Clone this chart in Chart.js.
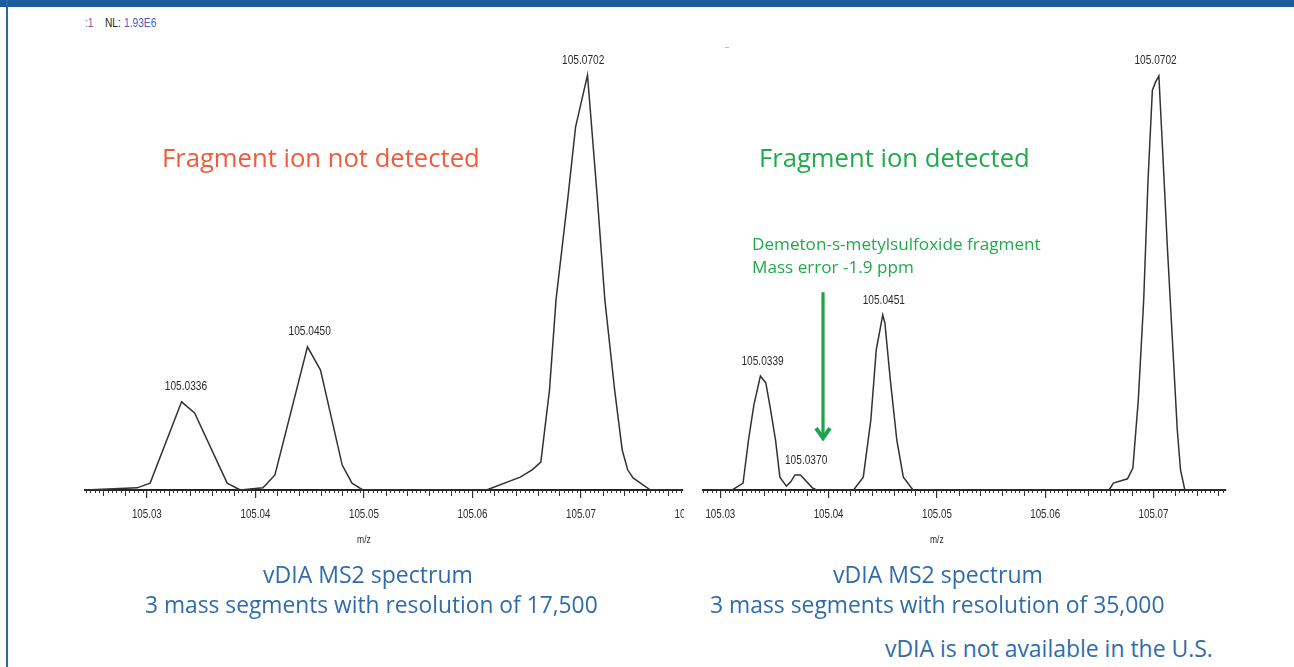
<!DOCTYPE html>
<html><head><meta charset="utf-8">
<script src="https://cdn.jsdelivr.net/npm/chart.js@4.4.0/dist/chart.umd.min.js"></script>
<style>
html,body{margin:0;padding:0;background:#fff;width:1294px;height:667px;overflow:hidden;position:relative}
#topbar{position:absolute;left:0;top:0;width:1294px;height:7px;background:#1c5c9b}
#leftbar{position:absolute;left:6px;top:0;width:2px;height:667px;background:#2a66a3}
.t{position:absolute;white-space:nowrap;line-height:1;font-family:"Open Sans",sans-serif}
.s{position:absolute;white-space:nowrap;line-height:1;font-family:"Liberation Sans",Arial,sans-serif;font-size:12px;transform:scaleX(0.85);transform-origin:0 50%}
canvas{position:absolute}
</style>
</head><body>
<div id="topbar"></div>
<div id="leftbar"></div>
<div class="s" style="left:85px;top:17px;color:#6a6f88">:1</div>
<div class="s" style="left:105px;top:17px;color:#222">NL:</div>
<div class="s" style="left:124px;top:17px;color:#4b5cc4">1.93E6</div>
<div style="position:absolute;left:725px;top:47px;width:4px;height:1px;background:#bbb"></div>
<canvas id="c1" width="625" height="520" style="left:70px;top:40px"></canvas>
<canvas id="c2" width="560" height="520" style="left:690px;top:40px"></canvas>
<script>
// ---- data (m/z, relative intensity %) ----
const leftMz = [105.0243,105.0291,105.0303,105.0332,105.0344,105.0374,105.0386,
  105.0407,105.0418,105.0448,105.0460,105.0480,105.0489,105.0499,
  105.0613,105.0644,105.0655,105.0663,105.0671,105.0677,105.0688,105.0695,105.0706,
  105.0715,105.0722,105.0731,105.0738,105.0743,105.0748,105.0764,105.0794];
const leftIntensity = [0,0.5,1.6,20.5,17.9,1.6,0,
  0.5,3.5,33.3,27.9,5.8,1.6,0,
  0,3.0,4.7,6.5,23.3,44.2,68.1,84.4,96.5,
  68.1,44.2,23.3,9.3,4.7,2.8,0,0];
const rightMz = [105.0284,105.0311,105.0321,105.0326,105.0331,105.0337,105.0342,105.0346,105.0351,
  105.0355,105.0361,105.0365,105.0369,105.0374,105.0385,105.0389,
  105.0423,105.0432,105.0439,105.0444,105.0450,105.0452,105.0457,105.0463,105.0469,105.0478,
  105.0659,105.0663,105.0676,105.0681,105.0686,105.0691,105.0695,105.0699,105.0702,105.0705,
  105.0708,105.0713,105.0717,105.0722,105.0725,105.0729,105.0767];
const rightIntensity = [0,0,1.6,11.6,19.8,26.5,24.9,19.3,11.6,
  3.0,0.9,1.9,3.5,3.5,0.5,0,
  0,3.0,16.3,32.6,40.7,38.8,25.6,11.6,3.0,0,
  0,1.6,2.6,5.1,20.9,44.2,72.1,93.0,94.9,96.3,
  81.4,55.8,37.2,14.0,4.7,0,0];
const leftPeakLabels = ['105.0336','105.0450','105.0702'];
const leftPeakHeights = [20.5,33.3,96.5];
const rightPeakLabels = ['105.0339','105.0370','105.0451','105.0702'];
const rightPeakHeights = [26.5,3.3,40.7,96.3];
const leftTickLabels = ['105.03','105.04','105.05','105.06','105.07','105.08'];
const rightTickLabels = ['105.03','105.04','105.05','105.06','105.07'];
const axisTitle = 'm/z';
const arrowMz = 105.0395, arrowFrom = 46.0, arrowTo = 11.6;

// ---- styles ----
const labelShift = {'105.0370': 10};
function cond(ctx, text, x, y, size, sx, color){
  ctx.save();
  ctx.font = size + 'px "Liberation Sans", Arial, sans-serif';
  ctx.fillStyle = color || '#2b2b2b';
  ctx.translate(x, y); ctx.scale(sx, 1);
  ctx.textAlign = 'center'; ctx.textBaseline = 'middle';
  ctx.fillText(text, 0, 0);
  ctx.restore();
}
function specPlugin(ticks, labels, heights, arrow){
  return {
    id: 'spec',
    afterDraw(chart){
      const ctx = chart.ctx, xs = chart.scales.x, ys = chart.scales.y, ca = chart.chartArea;
      ctx.save();
      ctx.strokeStyle = '#333'; ctx.lineWidth = 1;
      const i0 = Math.ceil(xs.min*10000 - 1e-6), i1 = Math.floor(xs.max*10000 + 1e-6);
      for (let i = i0; i <= i1; i++){
        if (i % 100 === 0 || i % 4 !== 0) continue;
        const px = Math.round(xs.getPixelForValue(i/10000)) + 0.5;
        const len = (i % 20 === 0) ? 6 : 3;
        ctx.beginPath(); ctx.moveTo(px, ca.bottom); ctx.lineTo(px, ca.bottom + len); ctx.stroke();
      }
      ctx.save();
      ctx.beginPath(); ctx.rect(0, 0, ca.right + 1, chart.height); ctx.clip();
      ticks.forEach(t => cond(ctx, t, xs.getPixelForValue(parseFloat(t)), ca.bottom + 24, 13, 0.75));
      ctx.restore();
      cond(ctx, axisTitle, xs.getPixelForValue(105.05), ca.bottom + 50, 10, 0.85);
      labels.forEach((l, k) => {
        const x = xs.getPixelForValue(parseFloat(l)) + (labelShift[l] || 0);
        const y = ys.getPixelForValue(heights[k]) - 15;
        cond(ctx, l, x, y, 13, 0.78);
      });
      if (arrow){
        const x = Math.round(xs.getPixelForValue(arrowMz));
        const y1 = ys.getPixelForValue(arrowFrom), y2 = ys.getPixelForValue(arrowTo);
        ctx.strokeStyle = '#1ea34a'; ctx.lineWidth = 3.2; ctx.lineCap = 'butt';
        ctx.beginPath(); ctx.moveTo(x, y1); ctx.lineTo(x, y2 - 2); ctx.stroke();
        ctx.lineWidth = 4; ctx.lineJoin = 'miter';
        ctx.beginPath(); ctx.moveTo(x - 7, y2 - 12); ctx.lineTo(x, y2 - 2); ctx.lineTo(x + 7, y2 - 12); ctx.stroke();
      }
      ctx.restore();
    }
  };
}
function makeChart(id, mz, inten, min, max, pad, ticks, labels, heights, arrow){
  return new Chart(document.getElementById(id), {
    type: 'line',
    data: { datasets: [{ data: mz.map((v, i) => ({x: v, y: inten[i]})),
      borderColor: '#333', borderWidth: 1.5, pointRadius: 0, tension: 0, fill: false }] },
    options: {
      responsive: false, animation: false, events: [],
      layout: { padding: pad },
      plugins: { legend: {display: false}, tooltip: {enabled: false} },
      scales: {
        x: { type: 'linear', min: min, max: max,
          ticks: { display: false, stepSize: 0.01, includeBounds: false },
          grid: { display: true, drawOnChartArea: false, drawTicks: true, tickLength: 8, color: '#333', lineWidth: 1.2 },
          border: { display: true, color: '#222', width: 2 },
          afterFit(s){ s.height = 70; } },
        y: { min: 0, max: 100, display: false }
      }
    },
    plugins: [specPlugin(ticks, labels, heights, arrow)]
  });
}
makeChart('c1', leftMz, leftIntensity, 105.0243, 105.0794, {left: 15, right: 12, top: 20, bottom: 0},
  leftTickLabels, leftPeakLabels, leftPeakHeights, false);
makeChart('c2', rightMz, rightIntensity, 105.0284, 105.0767, {left: 13, right: 24, top: 20, bottom: 0},
  rightTickLabels, rightPeakLabels, rightPeakHeights, true);

// ---- annotation texts ----
const RED = '#ef5b3c', GREEN = '#1fab4c', BLUE = '#2f6cab';
const texts = [
  ['Fragment ion not detected', 162, 167, 318, RED],
  ['Fragment ion detected', 759, 167, 271, GREEN],
  ['Demeton-s-metylsulfoxide fragment', 752, 250, 289, GREEN],
  ['Mass error -1.9 ppm', 752, 273, 162, GREEN],
  ['vDIA MS2 spectrum', 263, 584, 210, BLUE],
  ['3 mass segments with resolution of 17,500', 145, 614, 453, BLUE],
  ['vDIA MS2 spectrum', 833, 584, 210, BLUE],
  ['3 mass segments with resolution of 35,000', 710, 614, 455, BLUE],
  ['vDIA is not available in the U.S.', 885, 657, 328, BLUE]
];
const mc = document.createElement('canvas').getContext('2d');
texts.forEach(([t, x, base, w, c]) => {
  const d = document.createElement('div');
  d.className = 't'; d.textContent = t; d.style.color = c;
  mc.font = '100px "Open Sans"';
  const mw = mc.measureText(t).width;
  const size = 100 * w / mw;
  d.style.fontSize = size + 'px';
  mc.font = size + 'px "Open Sans"';
  const m = mc.measureText('M');
  const A = m.fontBoundingBoxAscent, D = m.fontBoundingBoxDescent;
  const top = base - (size + A - D) / 2;
  d.style.left = x + 'px'; d.style.top = top + 'px';
  document.body.appendChild(d);
});
</script>
</body></html>
